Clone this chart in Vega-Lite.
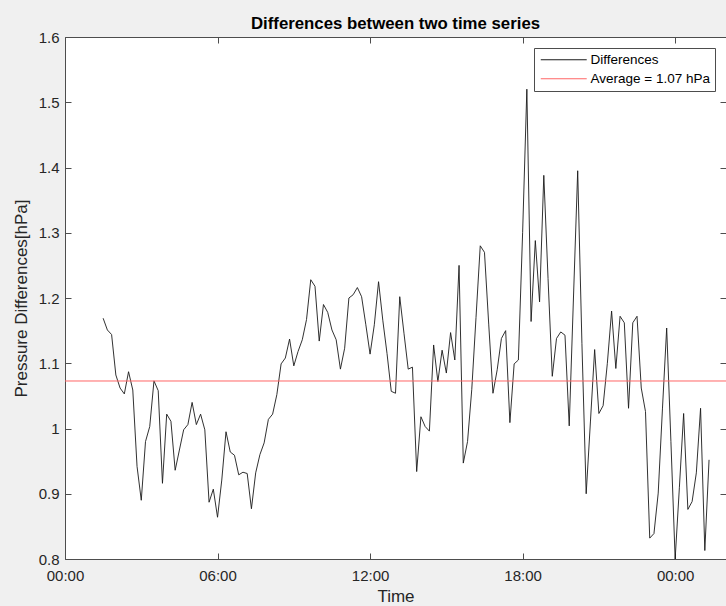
{
  "$schema": "https://vega.github.io/schema/vega-lite/v6.json",
  "width": 661,
  "height": 522,
  "autosize": {"type": "none"},
  "padding": {"left": 65, "top": 37, "right": 0, "bottom": 47},
  "background": "#f0f0f0",
  "title": {"text": "Differences between two time series", "font": "Liberation Sans", "fontSize": 16.8, "fontWeight": "bold", "color": "#000000", "anchor": "middle", "offset": -3},
  "config": {
    "view": {"fill": "white", "stroke": "#4d4d4d", "strokeWidth": 1},
    "axis": {"domain": false, "grid": false, "labelFont": "Liberation Sans", "labelFontSize": 15, "labelColor": "#262626", "titleFont": "Liberation Sans", "titleFontSize": 17, "titleFontWeight": "normal", "titleColor": "#262626", "tickColor": "#4d4d4d", "tickSize": -6, "labelFlush": false, "labelOverlap": false},
    "legend": {"orient": "top-right", "offset": 11, "strokeColor": "#4d4d4d", "fillColor": "white", "padding": 5, "symbolType": "M-4,0H4", "symbolSize": 132, "symbolStrokeWidth": 1, "symbolOffset": 18, "labelOffset": 20, "labelFont": "Liberation Sans", "labelFontSize": 13.5, "labelColor": "#000000", "rowPadding": 4, "title": null}
  },
  "resolve": {"axis": {"x": "independent", "y": "independent"}},
  "layer": [
    {
      "data": {"values": [
        {"time": "2021-01-01T01:30", "diff": 1.169},
        {"time": "2021-01-01T01:40", "diff": 1.151},
        {"time": "2021-01-01T01:50", "diff": 1.144},
        {"time": "2021-01-01T02:00", "diff": 1.082},
        {"time": "2021-01-01T02:10", "diff": 1.062},
        {"time": "2021-01-01T02:20", "diff": 1.053},
        {"time": "2021-01-01T02:30", "diff": 1.087},
        {"time": "2021-01-01T02:40", "diff": 1.059},
        {"time": "2021-01-01T02:50", "diff": 0.942},
        {"time": "2021-01-01T03:00", "diff": 0.890},
        {"time": "2021-01-01T03:10", "diff": 0.980},
        {"time": "2021-01-01T03:20", "diff": 1.003},
        {"time": "2021-01-01T03:30", "diff": 1.073},
        {"time": "2021-01-01T03:40", "diff": 1.058},
        {"time": "2021-01-01T03:50", "diff": 0.916},
        {"time": "2021-01-01T04:00", "diff": 1.022},
        {"time": "2021-01-01T04:10", "diff": 1.011},
        {"time": "2021-01-01T04:20", "diff": 0.936},
        {"time": "2021-01-01T04:30", "diff": 0.967},
        {"time": "2021-01-01T04:40", "diff": 0.998},
        {"time": "2021-01-01T04:50", "diff": 1.006},
        {"time": "2021-01-01T05:00", "diff": 1.040},
        {"time": "2021-01-01T05:10", "diff": 1.006},
        {"time": "2021-01-01T05:20", "diff": 1.022},
        {"time": "2021-01-01T05:30", "diff": 0.998},
        {"time": "2021-01-01T05:40", "diff": 0.887},
        {"time": "2021-01-01T05:50", "diff": 0.907},
        {"time": "2021-01-01T06:00", "diff": 0.864},
        {"time": "2021-01-01T06:10", "diff": 0.921},
        {"time": "2021-01-01T06:20", "diff": 0.995},
        {"time": "2021-01-01T06:30", "diff": 0.964},
        {"time": "2021-01-01T06:40", "diff": 0.959},
        {"time": "2021-01-01T06:50", "diff": 0.929},
        {"time": "2021-01-01T07:00", "diff": 0.933},
        {"time": "2021-01-01T07:10", "diff": 0.931},
        {"time": "2021-01-01T07:20", "diff": 0.877},
        {"time": "2021-01-01T07:30", "diff": 0.932},
        {"time": "2021-01-01T07:40", "diff": 0.960},
        {"time": "2021-01-01T07:50", "diff": 0.978},
        {"time": "2021-01-01T08:00", "diff": 1.014},
        {"time": "2021-01-01T08:10", "diff": 1.022},
        {"time": "2021-01-01T08:20", "diff": 1.052},
        {"time": "2021-01-01T08:30", "diff": 1.099},
        {"time": "2021-01-01T08:40", "diff": 1.108},
        {"time": "2021-01-01T08:50", "diff": 1.137},
        {"time": "2021-01-01T09:00", "diff": 1.096},
        {"time": "2021-01-01T09:10", "diff": 1.118},
        {"time": "2021-01-01T09:20", "diff": 1.136},
        {"time": "2021-01-01T09:30", "diff": 1.167},
        {"time": "2021-01-01T09:40", "diff": 1.228},
        {"time": "2021-01-01T09:50", "diff": 1.218},
        {"time": "2021-01-01T10:00", "diff": 1.134},
        {"time": "2021-01-01T10:10", "diff": 1.190},
        {"time": "2021-01-01T10:20", "diff": 1.178},
        {"time": "2021-01-01T10:30", "diff": 1.151},
        {"time": "2021-01-01T10:40", "diff": 1.136},
        {"time": "2021-01-01T10:50", "diff": 1.091},
        {"time": "2021-01-01T11:00", "diff": 1.123},
        {"time": "2021-01-01T11:10", "diff": 1.200},
        {"time": "2021-01-01T11:20", "diff": 1.205},
        {"time": "2021-01-01T11:30", "diff": 1.216},
        {"time": "2021-01-01T11:40", "diff": 1.202},
        {"time": "2021-01-01T11:50", "diff": 1.159},
        {"time": "2021-01-01T12:00", "diff": 1.114},
        {"time": "2021-01-01T12:10", "diff": 1.159},
        {"time": "2021-01-01T12:20", "diff": 1.225},
        {"time": "2021-01-01T12:30", "diff": 1.166},
        {"time": "2021-01-01T12:40", "diff": 1.115},
        {"time": "2021-01-01T12:50", "diff": 1.057},
        {"time": "2021-01-01T13:00", "diff": 1.054},
        {"time": "2021-01-01T13:10", "diff": 1.202},
        {"time": "2021-01-01T13:20", "diff": 1.146},
        {"time": "2021-01-01T13:30", "diff": 1.091},
        {"time": "2021-01-01T13:40", "diff": 1.094},
        {"time": "2021-01-01T13:50", "diff": 0.934},
        {"time": "2021-01-01T14:00", "diff": 1.018},
        {"time": "2021-01-01T14:10", "diff": 1.003},
        {"time": "2021-01-01T14:20", "diff": 0.996},
        {"time": "2021-01-01T14:30", "diff": 1.128},
        {"time": "2021-01-01T14:40", "diff": 1.072},
        {"time": "2021-01-01T14:50", "diff": 1.120},
        {"time": "2021-01-01T15:00", "diff": 1.085},
        {"time": "2021-01-01T15:10", "diff": 1.147},
        {"time": "2021-01-01T15:20", "diff": 1.105},
        {"time": "2021-01-01T15:30", "diff": 1.250},
        {"time": "2021-01-01T15:40", "diff": 0.947},
        {"time": "2021-01-01T15:50", "diff": 0.980},
        {"time": "2021-01-01T16:00", "diff": 1.060},
        {"time": "2021-01-01T16:10", "diff": 1.170},
        {"time": "2021-01-01T16:20", "diff": 1.280},
        {"time": "2021-01-01T16:30", "diff": 1.270},
        {"time": "2021-01-01T16:40", "diff": 1.160},
        {"time": "2021-01-01T16:50", "diff": 1.054},
        {"time": "2021-01-01T17:00", "diff": 1.090},
        {"time": "2021-01-01T17:10", "diff": 1.138},
        {"time": "2021-01-01T17:20", "diff": 1.150},
        {"time": "2021-01-01T17:30", "diff": 1.009},
        {"time": "2021-01-01T17:40", "diff": 1.099},
        {"time": "2021-01-01T17:50", "diff": 1.105},
        {"time": "2021-01-01T18:00", "diff": 1.300},
        {"time": "2021-01-01T18:10", "diff": 1.520},
        {"time": "2021-01-01T18:20", "diff": 1.164},
        {"time": "2021-01-01T18:30", "diff": 1.288},
        {"time": "2021-01-01T18:40", "diff": 1.194},
        {"time": "2021-01-01T18:50", "diff": 1.388},
        {"time": "2021-01-01T19:00", "diff": 1.230},
        {"time": "2021-01-01T19:10", "diff": 1.080},
        {"time": "2021-01-01T19:20", "diff": 1.138},
        {"time": "2021-01-01T19:30", "diff": 1.148},
        {"time": "2021-01-01T19:40", "diff": 1.143},
        {"time": "2021-01-01T19:50", "diff": 1.004},
        {"time": "2021-01-01T20:00", "diff": 1.200},
        {"time": "2021-01-01T20:10", "diff": 1.395},
        {"time": "2021-01-01T20:20", "diff": 1.130},
        {"time": "2021-01-01T20:30", "diff": 0.900},
        {"time": "2021-01-01T20:40", "diff": 1.010},
        {"time": "2021-01-01T20:50", "diff": 1.121},
        {"time": "2021-01-01T21:00", "diff": 1.023},
        {"time": "2021-01-01T21:10", "diff": 1.035},
        {"time": "2021-01-01T21:20", "diff": 1.100},
        {"time": "2021-01-01T21:30", "diff": 1.180},
        {"time": "2021-01-01T21:40", "diff": 1.092},
        {"time": "2021-01-01T21:50", "diff": 1.172},
        {"time": "2021-01-01T22:00", "diff": 1.162},
        {"time": "2021-01-01T22:10", "diff": 1.031},
        {"time": "2021-01-01T22:20", "diff": 1.162},
        {"time": "2021-01-01T22:30", "diff": 1.172},
        {"time": "2021-01-01T22:40", "diff": 1.062},
        {"time": "2021-01-01T22:50", "diff": 1.026},
        {"time": "2021-01-01T23:00", "diff": 0.832},
        {"time": "2021-01-01T23:10", "diff": 0.839},
        {"time": "2021-01-01T23:20", "diff": 0.901},
        {"time": "2021-01-01T23:30", "diff": 1.030},
        {"time": "2021-01-01T23:40", "diff": 1.154},
        {"time": "2021-01-01T23:50", "diff": 0.980},
        {"time": "2021-01-02T00:00", "diff": 0.800},
        {"time": "2021-01-02T00:10", "diff": 0.910},
        {"time": "2021-01-02T00:20", "diff": 1.023},
        {"time": "2021-01-02T00:30", "diff": 0.876},
        {"time": "2021-01-02T00:40", "diff": 0.888},
        {"time": "2021-01-02T00:50", "diff": 0.932},
        {"time": "2021-01-02T01:00", "diff": 1.031},
        {"time": "2021-01-02T01:10", "diff": 0.813},
        {"time": "2021-01-02T01:20", "diff": 0.952}
      ]},
      "mark": {"type": "line", "strokeWidth": 0.9, "clip": true},
      "encoding": {
        "x": {"field": "time", "type": "temporal",
          "scale": {"domain": [{"year": 2021, "month": 1, "date": 1, "hours": 0}, {"year": 2021, "month": 1, "date": 2, "hours": 2}]},
          "axis": {"orient": "bottom", "title": "Time", "format": "%H:%M", "labelPadding": 15.5, "titlePadding": 5,
            "values": [{"year": 2021, "month": 1, "date": 1, "hours": 0}, {"year": 2021, "month": 1, "date": 1, "hours": 6}, {"year": 2021, "month": 1, "date": 1, "hours": 12}, {"year": 2021, "month": 1, "date": 1, "hours": 18}, {"year": 2021, "month": 1, "date": 2, "hours": 0}]}},
        "y": {"field": "diff", "type": "quantitative",
          "scale": {"domain": [0.8, 1.6], "nice": false, "zero": false},
          "axis": {"orient": "left", "title": "Pressure Differences[hPa]", "format": "~g", "labelPadding": 12, "titlePadding": 8, "values": [0.8, 0.9, 1.0, 1.1, 1.2, 1.3, 1.4, 1.5, 1.6]}},
        "color": {"datum": "Differences", "type": "nominal",
          "scale": {"domain": ["Differences", "Average = 1.07 hPa"], "range": ["#1a1a1a", "#ff6666"]}}
      }
    },
    {
      "data": {"values": [{"series": "Average = 1.07 hPa", "avg": 1.0728}]},
      "mark": {"type": "rule", "strokeWidth": 1},
      "encoding": {
        "x": {"datum": {"year": 2021, "month": 1, "date": 1, "hours": 0}, "type": "temporal",
          "axis": {"orient": "top", "title": null, "labels": false,
            "values": [{"year": 2021, "month": 1, "date": 1, "hours": 0}, {"year": 2021, "month": 1, "date": 1, "hours": 6}, {"year": 2021, "month": 1, "date": 1, "hours": 12}, {"year": 2021, "month": 1, "date": 1, "hours": 18}, {"year": 2021, "month": 1, "date": 2, "hours": 0}]}},
        "x2": {"datum": {"year": 2021, "month": 1, "date": 2, "hours": 2}},
        "y": {"field": "avg", "type": "quantitative",
          "axis": {"orient": "right", "title": null, "labels": false, "values": [0.8, 0.9, 1.0, 1.1, 1.2, 1.3, 1.4, 1.5, 1.6]}},
        "color": {"field": "series", "type": "nominal"}
      }
    }
  ]
}
